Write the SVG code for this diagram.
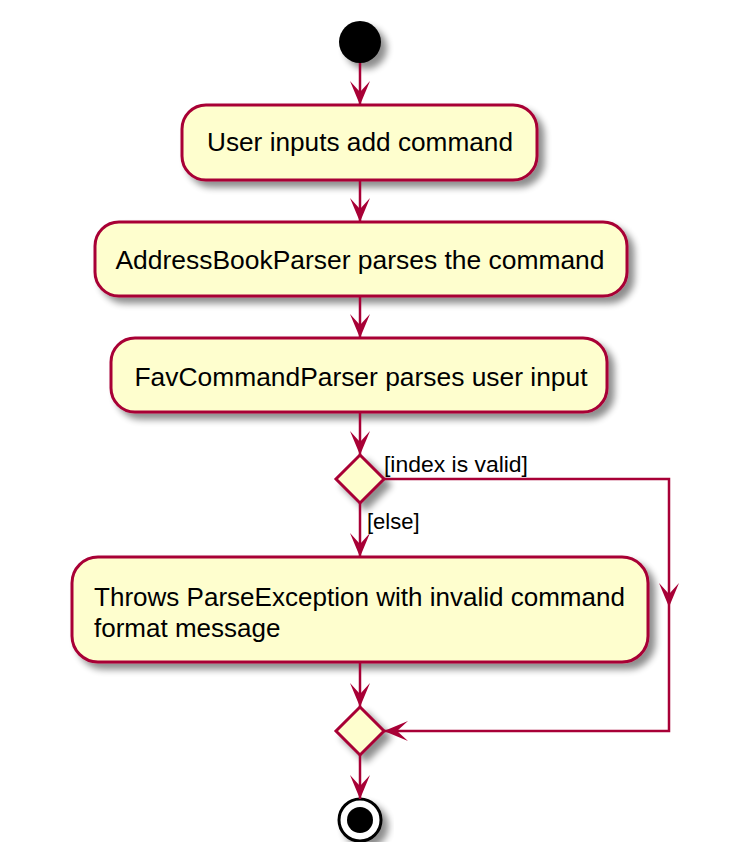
<svg xmlns="http://www.w3.org/2000/svg" width="741" height="842" viewBox="0 0 741 842">
<defs>
<filter id="sh" x="-20%" y="-20%" width="150%" height="160%">
<feGaussianBlur in="SourceAlpha" stdDeviation="3.5" result="b"/>
<feOffset in="b" dx="6" dy="6" result="o"/>
<feComponentTransfer in="o" result="c"><feFuncA type="linear" slope="0.45"/></feComponentTransfer>
<feMerge><feMergeNode in="c"/><feMergeNode in="SourceGraphic"/></feMerge>
</filter>
<marker id="ah" viewBox="0 0 24 20" refX="24" refY="10" markerWidth="24" markerHeight="20" markerUnits="userSpaceOnUse" orient="auto">
<path d="M24,10 L0,0 L11,10 L0,20 Z" fill="#A80036"/>
</marker>
</defs>
<style>
.act{fill:#FEFECE;stroke:#A80036;stroke-width:3;filter:url(#sh)}
.t{font-family:"Liberation Sans",Arial,sans-serif;font-size:26px;fill:#000}
.g{font-family:"Liberation Sans",Arial,sans-serif;font-size:22px;fill:#000}
.ln{fill:none;stroke:#A80036;stroke-width:2.5}
</style>
<rect width="741" height="842" fill="#fff"/>
<g id="start"><circle cx="360" cy="42" r="21" fill="#000" filter="url(#sh)"/></g>
<g id="n1"><rect class="act" x="182" y="105" width="355" height="75" rx="24"/><text class="t" x="360" y="151" text-anchor="middle" textLength="306" lengthAdjust="spacingAndGlyphs">User inputs add command</text></g>
<g id="n2"><rect class="act" x="95" y="222" width="532" height="74" rx="24"/><text class="t" x="360" y="269" text-anchor="middle" textLength="489" lengthAdjust="spacingAndGlyphs">AddressBookParser parses the command</text></g>
<g id="n3"><rect class="act" x="111" y="338" width="496" height="74" rx="24"/><text class="t" x="361" y="386" text-anchor="middle" textLength="453" lengthAdjust="spacingAndGlyphs">FavCommandParser parses user input</text></g>
<g id="d1"><polygon class="act" points="360,455 384,479 360,503 336,479"/></g>
<g id="n4"><rect class="act" x="72" y="557" width="576" height="105" rx="26"/><text class="t" x="94" y="606" textLength="531" lengthAdjust="spacingAndGlyphs">Throws ParseException with invalid command</text><text class="t" x="94" y="637">format message</text></g>
<g id="d2"><polygon class="act" points="360,707 384,731 360,755 336,731"/></g>
<g id="end"><circle cx="360" cy="820" r="21" fill="#fff" stroke="#000" stroke-width="3" filter="url(#sh)"/><circle cx="360" cy="820" r="13" fill="#000"/></g>
<g id="connectors">
<line class="ln" x1="360" y1="63" x2="360" y2="105" marker-end="url(#ah)"/>
<line class="ln" x1="360" y1="180" x2="360" y2="222" marker-end="url(#ah)"/>
<line class="ln" x1="360" y1="296" x2="360" y2="338" marker-end="url(#ah)"/>
<line class="ln" x1="360" y1="412" x2="360" y2="455" marker-end="url(#ah)"/>
<line class="ln" x1="360" y1="503" x2="360" y2="557" marker-end="url(#ah)"/>
<text class="g" x="367" y="529">[else]</text>
<polyline class="ln" points="384,479 669,479 669,731 384,731" marker-end="url(#ah)"/>
<path d="M669,607 L659,583 L669,594 L679,583 Z" fill="#A80036"/>
<text class="g" x="384" y="472" textLength="144" lengthAdjust="spacingAndGlyphs">[index is valid]</text>
<line class="ln" x1="360" y1="662" x2="360" y2="707" marker-end="url(#ah)"/>
<line class="ln" x1="360" y1="755" x2="360" y2="799" marker-end="url(#ah)"/>
</g>
</svg>
